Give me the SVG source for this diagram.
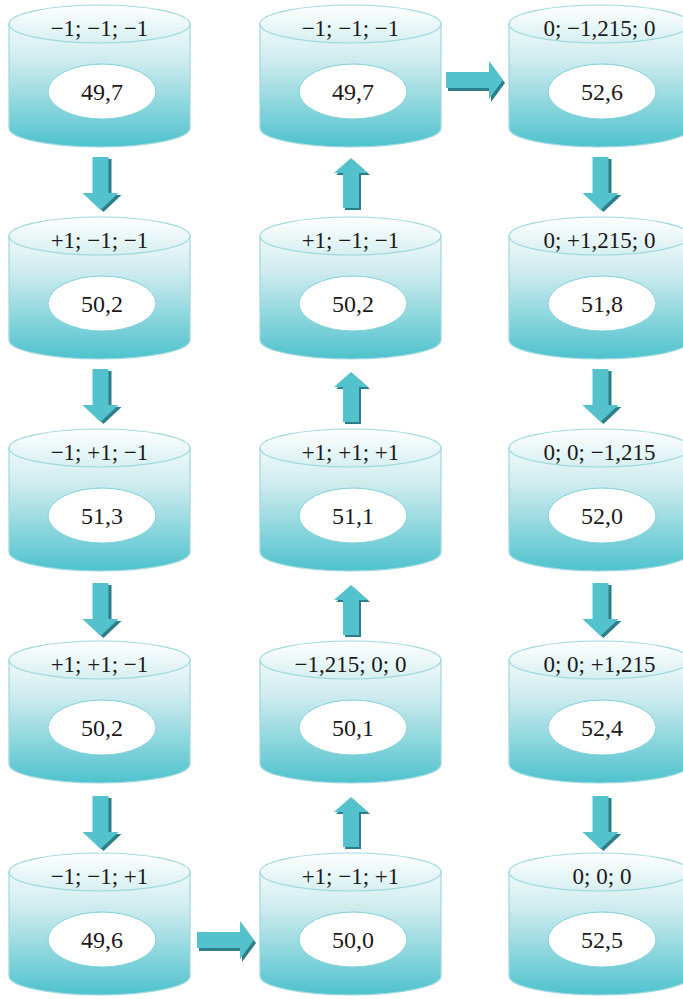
<svg xmlns="http://www.w3.org/2000/svg" xmlns:xlink="http://www.w3.org/1999/xlink" width="683" height="999" viewBox="0 0 683 999">
<style>
.body{fill:url(#gBody);stroke:#9fd8de;stroke-width:1.2}
.top{fill:url(#gTop);stroke:#9fd8de;stroke-width:1.2}
.inner{fill:#ffffff;stroke:#7fd0d8;stroke-width:1}
text{font-family:'Liberation Serif','Times New Roman','DejaVu Serif',serif;fill:#1a1a1a;text-anchor:middle}
.lbl{font-size:23px}
.val{font-size:24px}
.arr{fill:#54c2cd}
.shd{fill:#2c7f88}
</style>
<defs>
<linearGradient id="gBody" x1="0" y1="0" x2="0" y2="1">
<stop offset="0" stop-color="#f0f9fa"/>
<stop offset="0.3" stop-color="#cdebee"/>
<stop offset="1" stop-color="#4ec2cd"/>
</linearGradient>
<linearGradient id="gTop" x1="0" y1="0" x2="0" y2="1">
<stop offset="0" stop-color="#ffffff"/>
<stop offset="1" stop-color="#d6eff1"/>
</linearGradient>
<g id="cyl">
<path class="body" d="M0,19 V123 A90.5,19 0 0 0 181,123 V19 Z"/>
<ellipse class="top" cx="90.5" cy="19" rx="90.5" ry="19"/>
<ellipse class="inner" cx="93" cy="86.5" rx="54" ry="27.5"/>
</g>
<g id="aDown">
<path class="shd" transform="translate(3,2)" d="M-8,0 H8 V36 H18 L0,53 L-18,36 H-8 Z"/>
<path class="arr" d="M-8,0 H8 V36 H18 L0,53 L-18,36 H-8 Z"/>
</g>
<g id="aUp">
<path class="shd" transform="translate(2,2)" d="M0,0 L17,15 H8 V50 H-8 V15 H-17 Z"/>
<path class="arr" d="M0,0 L17,15 H8 V50 H-8 V15 H-17 Z"/>
</g>
<g id="aRight">
<path class="shd" transform="translate(2,3)" d="M0,-8 H43 V-19 L57,0 L43,19 V8 H0 Z"/>
<path class="arr" d="M0,-8 H43 V-19 L57,0 L43,19 V8 H0 Z"/>
</g>
</defs>
<rect width="683" height="999" fill="#ffffff"/>

<g id="connectors">
<use href="#aDown" x="100.5" y="157"/>
<use href="#aDown" x="100.5" y="369"/>
<use href="#aDown" x="100.5" y="583"/>
<use href="#aDown" x="100.5" y="796"/>
<use href="#aRight" x="197" y="940"/>
<use href="#aUp" x="351" y="797"/>
<use href="#aUp" x="351" y="585"/>
<use href="#aUp" x="351" y="372"/>
<use href="#aUp" x="351" y="158"/>
<use href="#aRight" x="446" y="80"/>
<use href="#aDown" x="600.5" y="157"/>
<use href="#aDown" x="600.5" y="369"/>
<use href="#aDown" x="600.5" y="583"/>
<use href="#aDown" x="600.5" y="796"/>
</g>

<g id="n1" transform="translate(9,5)"><use href="#cyl"/><text class="lbl" x="90.5" y="31">−1; −1; −1</text><text class="val" x="93" y="95">49,7</text></g>
<g id="n2" transform="translate(9,217)"><use href="#cyl"/><text class="lbl" x="90.5" y="31">+1; −1; −1</text><text class="val" x="93" y="95">50,2</text></g>
<g id="n3" transform="translate(9,429)"><use href="#cyl"/><text class="lbl" x="90.5" y="31">−1; +1; −1</text><text class="val" x="93" y="95">51,3</text></g>
<g id="n4" transform="translate(9,641)"><use href="#cyl"/><text class="lbl" x="90.5" y="31">+1; +1; −1</text><text class="val" x="93" y="95">50,2</text></g>
<g id="n5" transform="translate(9,853)"><use href="#cyl"/><text class="lbl" x="90.5" y="31">−1; −1; +1</text><text class="val" x="93" y="95">49,6</text></g>

<g id="n6" transform="translate(260,853)"><use href="#cyl"/><text class="lbl" x="90.5" y="31">+1; −1; +1</text><text class="val" x="93" y="95">50,0</text></g>
<g id="n7" transform="translate(260,641)"><use href="#cyl"/><text class="lbl" x="90.5" y="31">−1,215; 0; 0</text><text class="val" x="93" y="95">50,1</text></g>
<g id="n8" transform="translate(260,429)"><use href="#cyl"/><text class="lbl" x="90.5" y="31">+1; +1; +1</text><text class="val" x="93" y="95">51,1</text></g>
<g id="n9" transform="translate(260,217)"><use href="#cyl"/><text class="lbl" x="90.5" y="31">+1; −1; −1</text><text class="val" x="93" y="95">50,2</text></g>
<g id="n10" transform="translate(260,5)"><use href="#cyl"/><text class="lbl" x="90.5" y="31">−1; −1; −1</text><text class="val" x="93" y="95">49,7</text></g>

<g id="n11" transform="translate(509,5)"><use href="#cyl"/><text class="lbl" x="90.5" y="31">0; −1,215; 0</text><text class="val" x="93" y="95">52,6</text></g>
<g id="n12" transform="translate(509,217)"><use href="#cyl"/><text class="lbl" x="90.5" y="31">0; +1,215; 0</text><text class="val" x="93" y="95">51,8</text></g>
<g id="n13" transform="translate(509,429)"><use href="#cyl"/><text class="lbl" x="90.5" y="31">0; 0; −1,215</text><text class="val" x="93" y="95">52,0</text></g>
<g id="n14" transform="translate(509,641)"><use href="#cyl"/><text class="lbl" x="90.5" y="31">0; 0; +1,215</text><text class="val" x="93" y="95">52,4</text></g>
<g id="n15" transform="translate(509,853)"><use href="#cyl"/><text class="lbl" x="93" y="31">0; 0; 0</text><text class="val" x="93" y="95">52,5</text></g>
</svg>
